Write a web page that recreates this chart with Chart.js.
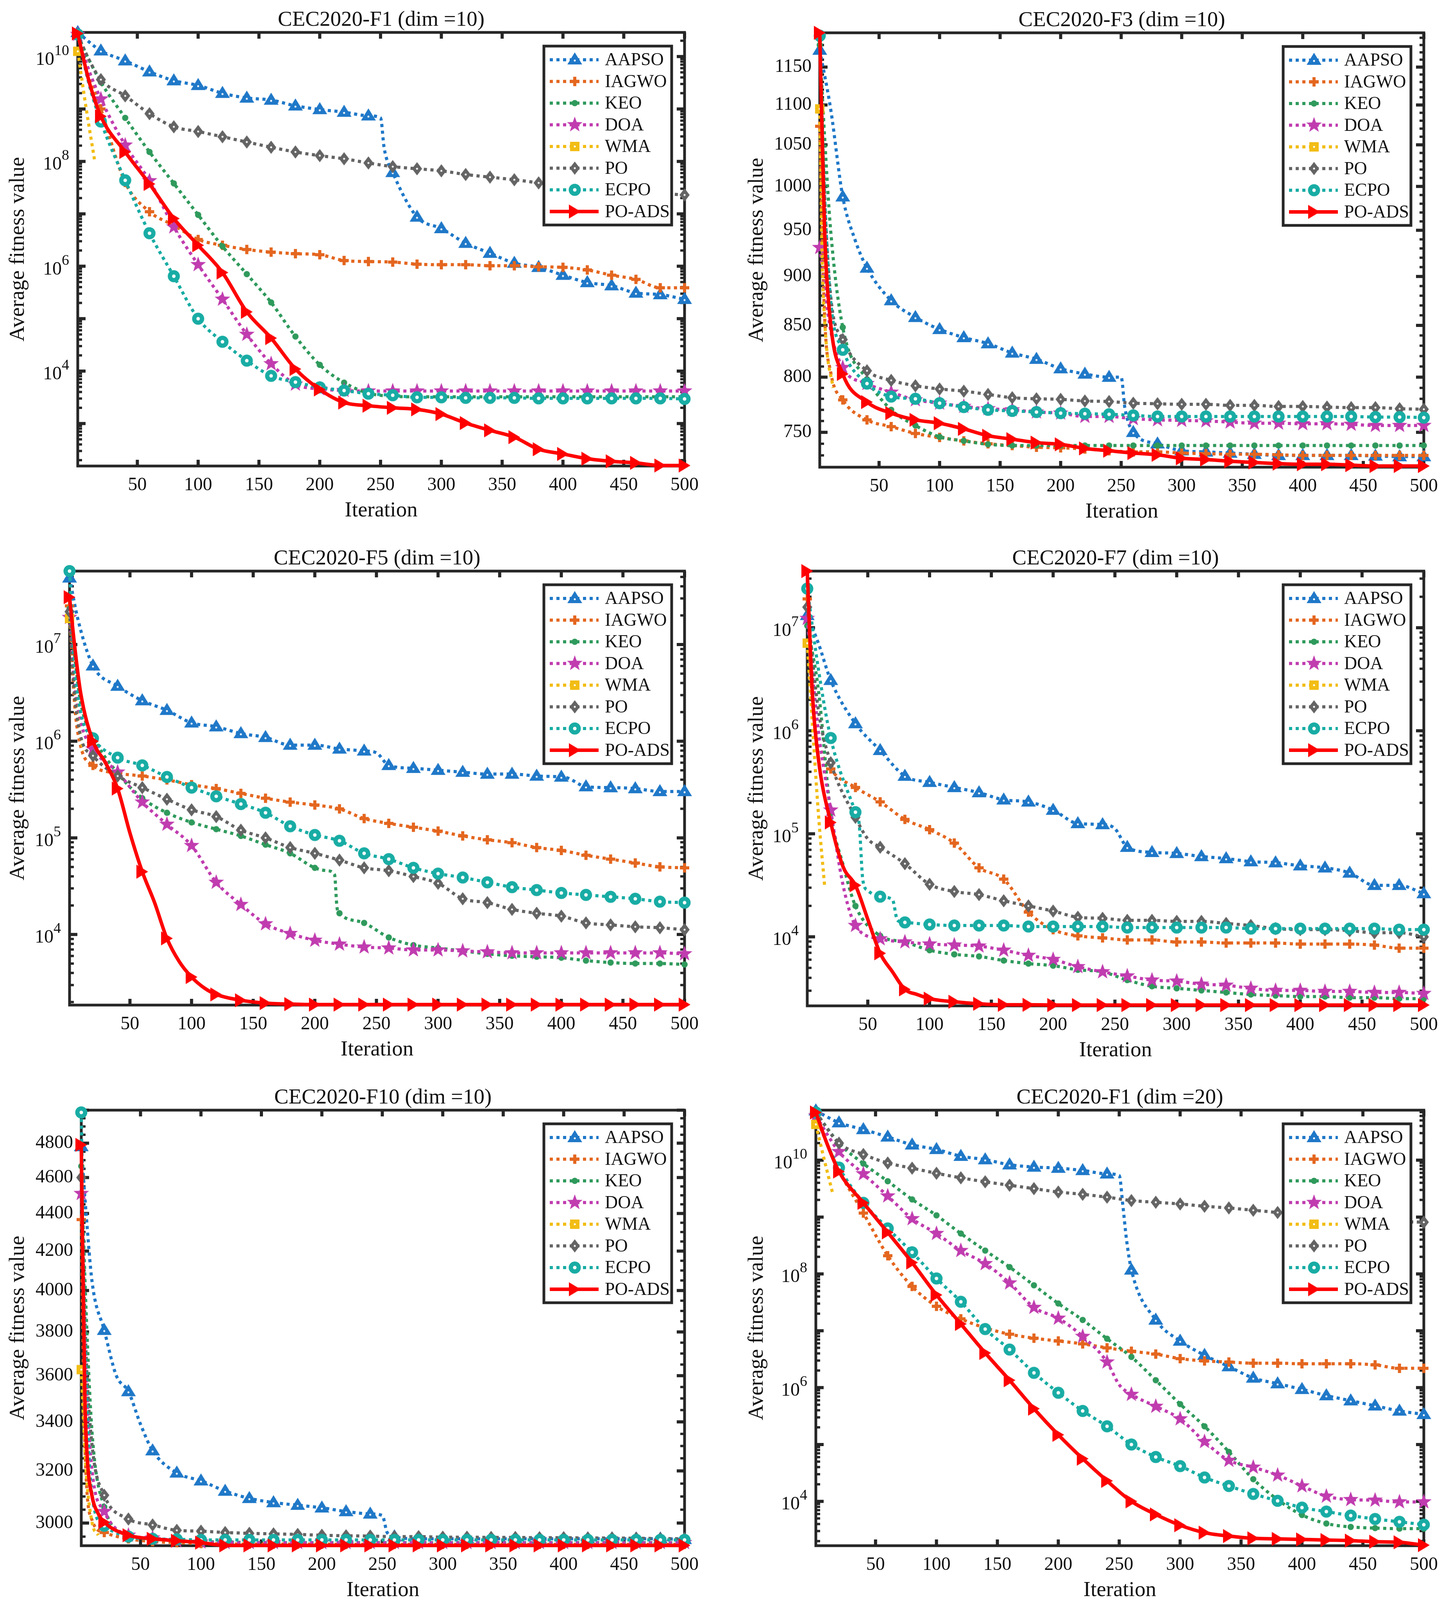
<!DOCTYPE html>
<html>
<head>
<meta charset="utf-8">
<script src="https://cdn.jsdelivr.net/npm/chart.js@4.4.1/dist/chart.umd.min.js"></script>
<style>
  html, body { margin: 0; padding: 0; background: #fff; }
  body { width: 3711px; height: 4124px; position: relative; overflow: hidden; }
  canvas { position: absolute; }
</style>
</head>
<body>
<canvas id="c0" width="1855" height="1375" style="left:0px;top:0px"></canvas>
<canvas id="c1" width="1855" height="1375" style="left:1856px;top:0px"></canvas>
<canvas id="c2" width="1855" height="1375" style="left:0px;top:1375px"></canvas>
<canvas id="c3" width="1855" height="1375" style="left:1856px;top:1375px"></canvas>
<canvas id="c4" width="1855" height="1375" style="left:0px;top:2750px"></canvas>
<canvas id="c5" width="1855" height="1375" style="left:1856px;top:2750px"></canvas>
<script>
// iterations where the markers sit
const iters = [1, 20, 40, 60, 80, 100, 120, 140, 160, 180, 200, 220, 240, 260, 280, 300, 320, 340, 360, 380, 400, 420, 440, 460, 480, 500];
const xTicks = [50, 100, 150, 200, 250, 300, 350, 400, 450, 500];
const algos = ['AAPSO', 'IAGWO', 'KEO', 'DOA', 'WMA', 'PO', 'ECPO', 'PO-ADS'];
const titles = ['CEC2020-F1 (dim =10)', 'CEC2020-F3 (dim =10)', 'CEC2020-F5 (dim =10)',
                'CEC2020-F7 (dim =10)', 'CEC2020-F10 (dim =10)', 'CEC2020-F1 (dim =20)'];

// ---- F1 dim 10 (log10 of average fitness) ----
const f1AAPSO = [10.46, 10.11, 9.92, 9.71, 9.54, 9.45, 9.30, 9.21, 9.17, 9.06, 8.99, 8.94, 8.87,
                 7.79, 6.94, 6.72, 6.44, 6.25, 6.06, 5.98, 5.83, 5.69, 5.63, 5.49, 5.46, 5.37];
const f1AAPSOx = [[250, 8.83], [253, 8.25]];
const f1IAGWO = [10.42, 9.00, 7.60, 7.04, 6.78, 6.51, 6.40, 6.32, 6.27, 6.24, 6.22, 6.11, 6.09,
                 6.08, 6.04, 6.03, 6.03, 6.01, 6.01, 5.99, 5.98, 5.93, 5.83, 5.75, 5.59, 5.59];
const f1IAGWOx = [[10, 9.7]];
const f1KEO = [10.40, 9.51, 8.83, 8.18, 7.58, 6.98, 6.38, 5.85, 5.31, 4.66, 4.12, 3.78, 3.58,
               3.52, 3.51, 3.51, 3.51, 3.51, 3.51, 3.51, 3.51, 3.51, 3.51, 3.51, 3.51, 3.51];
const f1KEOx = [[10, 9.95]];
const f1DOA = [10.42, 9.19, 8.31, 7.63, 6.75, 6.03, 5.37, 4.70, 4.14, 3.75, 3.66, 3.63, 3.62,
               3.62, 3.62, 3.62, 3.62, 3.62, 3.62, 3.62, 3.62, 3.62, 3.62, 3.62, 3.62, 3.62];
const f1DOAx = [[10, 9.75]];
const f1WMAit = [1, 8, 15];
const f1WMA = [10.10, 9.0, 8.0];
const f1PO = [10.42, 9.56, 9.25, 8.91, 8.66, 8.57, 8.47, 8.37, 8.27, 8.18, 8.11, 8.05, 7.97,
              7.90, 7.86, 7.82, 7.75, 7.70, 7.65, 7.59, 7.52, 7.48, 7.44, 7.41, 7.39, 7.36];
const f1POx = [[10, 9.95]];
const f1ECPO = [10.42, 8.76, 7.64, 6.63, 5.81, 5.00, 4.56, 4.20, 3.91, 3.79, 3.69, 3.63, 3.57,
                3.54, 3.50, 3.50, 3.49, 3.49, 3.49, 3.48, 3.48, 3.48, 3.48, 3.48, 3.48, 3.47];
const f1ECPOx = [[10, 9.5]];
const f1PODS = [10.44, 8.86, 8.18, 7.57, 6.91, 6.40, 5.88, 5.13, 4.63, 4.04, 3.65, 3.40, 3.34,
                3.30, 3.27, 3.18, 3.01, 2.87, 2.74, 2.51, 2.42, 2.33, 2.28, 2.25, 2.20, 2.20];
const f1PODSx = [[10, 9.55]];

// ---- F3 dim 10 (average fitness) ----
const f2AAPSO = [1173, 988, 909, 875, 858, 846, 838, 832, 823, 817, 808, 803, 800,
                 750, 740, 734, 733, 732, 731, 730, 730, 730, 730, 729.5, 729, 729];
const f2AAPSOx = [[10, 1095], [30, 940], [250, 800], [253, 772]];
const f2IAGWO = [1073, 779, 761, 755, 749, 745.5, 742.5, 740, 738.5, 737, 736.5, 735.5, 734,
                 733, 733, 732, 731.5, 731, 731, 730.5, 730, 730, 730, 730, 730, 730];
const f2IAGWOx = [[5, 860], [10, 805]];
const f2KEO = [1180, 848, 798, 770, 756, 746, 742.5, 739.5, 738.5, 738.5, 738.5, 738.5, 738.5,
               738.5, 738.5, 738.5, 738.5, 738.5, 738.5, 738.5, 738.5, 738.5, 738.5, 738.5, 738.5, 738.5];
const f2KEOx = [[5, 1060], [10, 950]];
const f2DOA = [931, 809, 794, 786, 779, 776, 773, 771, 770, 768, 767, 764, 764,
               762, 761, 760.5, 760, 759, 758, 758, 757.5, 757.5, 757, 756, 756, 756];
const f2DOAx = [[10, 845]];
const f2WMAit = [1, 3, 6, 12];
const f2WMA = [1095, 920, 838, 790];
const f2PO = [1190, 836, 806, 797, 792, 789, 787, 784, 781, 780, 779.5, 778, 777.5,
              776, 775.5, 775, 775, 774, 774, 773, 773, 772.5, 772, 772, 771, 770.5];
const f2POx = [[5, 990], [10, 880]];
const f2ECPO = [1193, 826, 794, 782, 780, 776, 772.5, 770, 769, 768, 767, 766.5, 766,
                765, 764, 764, 764, 764, 764, 764, 764, 764, 764, 763.5, 763.5, 763];
const f2ECPOx = [[5, 990], [10, 875]];
const f2PODS = [1197, 803, 777, 767, 761, 758, 753, 747, 744, 741, 739.5, 736, 734,
                732, 730.5, 727.5, 726.5, 725, 724, 723, 722.5, 722.5, 721.7, 721, 721, 721];
const f2PODSx = [[5, 950], [10, 852]];

// ---- F5 dim 10 (log10) ----
const f3AAPSO = [7.69, 6.78, 6.57, 6.42, 6.32, 6.19, 6.15, 6.08, 6.04, 5.96, 5.96, 5.92, 5.90,
                 5.75, 5.72, 5.70, 5.68, 5.66, 5.66, 5.64, 5.63, 5.53, 5.52, 5.51, 5.48, 5.48];
const f3AAPSOx = [[8, 7.25], [250, 5.88], [405, 5.62]];
const f3IAGWO = [7.40, 5.75, 5.67, 5.64, 5.60, 5.55, 5.51, 5.46, 5.41, 5.37, 5.34, 5.30, 5.20,
                 5.15, 5.11, 5.07, 5.02, 4.98, 4.95, 4.90, 4.87, 4.82, 4.78, 4.74, 4.70, 4.69];
const f3IAGWOx = [[5, 6.4], [10, 5.95]];
const f3KEO = [7.37, 6.05, 5.67, 5.41, 5.26, 5.16, 5.09, 5.02, 4.93, 4.84, 4.69, 4.22, 4.12,
               3.97, 3.89, 3.86, 3.83, 3.80, 3.78, 3.77, 3.76, 3.73, 3.71, 3.70, 3.70, 3.69];
const f3KEOx = [[5, 6.9], [10, 6.4], [210, 4.66], [216, 4.62], [218, 4.28]];
const f3DOA = [7.28, 5.92, 5.68, 5.37, 5.14, 4.92, 4.54, 4.31, 4.11, 4.01, 3.94, 3.90, 3.87,
               3.86, 3.84, 3.84, 3.83, 3.82, 3.81, 3.81, 3.81, 3.81, 3.81, 3.81, 3.81, 3.80];
const f3DOAx = [[5, 6.6], [10, 6.2]];
const f3WMAit = [1, 6, 12];
const f3WMA = [7.27, 6.4, 5.9];
const f3PO = [7.34, 5.85, 5.64, 5.52, 5.40, 5.29, 5.22, 5.08, 5.00, 4.90, 4.84, 4.77, 4.69,
              4.66, 4.60, 4.53, 4.37, 4.33, 4.26, 4.22, 4.19, 4.12, 4.10, 4.08, 4.07, 4.05];
const f3POx = [[5, 6.5], [10, 6.05]];
const f3ECPO = [7.76, 6.03, 5.83, 5.75, 5.63, 5.52, 5.43, 5.35, 5.26, 5.12, 5.03, 4.97, 4.84,
                4.78, 4.69, 4.63, 4.59, 4.54, 4.49, 4.46, 4.43, 4.41, 4.39, 4.37, 4.34, 4.33];
const f3ECPOx = [[5, 6.8], [10, 6.3]];
const f3PODS = [7.49, 6.00, 5.51, 4.65, 3.96, 3.56, 3.38, 3.32, 3.29, 3.28, 3.275, 3.275, 3.275,
                3.275, 3.275, 3.275, 3.275, 3.275, 3.275, 3.275, 3.275, 3.275, 3.275, 3.275, 3.275, 3.275];
const f3PODSx = [[5, 7.0], [10, 6.5], [30, 5.78], [50, 5.05], [70, 4.33], [90, 3.72], [110, 3.45]];

// ---- F7 dim 10 (log10) ----
const f4AAPSO = [7.12, 6.49, 6.07, 5.81, 5.56, 5.50, 5.45, 5.40, 5.33, 5.31, 5.23, 5.10, 5.09,
                 4.87, 4.82, 4.81, 4.78, 4.76, 4.73, 4.72, 4.69, 4.67, 4.62, 4.50, 4.50, 4.42];
const f4AAPSOx = [[10, 6.85], [250, 5.05]];
const f4IAGWO = [7.28, 5.63, 5.45, 5.31, 5.14, 5.04, 4.91, 4.67, 4.56, 4.24, 4.07, 4.01, 3.99,
                 3.97, 3.97, 3.95, 3.95, 3.94, 3.94, 3.94, 3.93, 3.93, 3.93, 3.92, 3.89, 3.89];
const f4IAGWOx = [[5, 6.3], [10, 5.9]];
const f4KEO = [7.02, 5.20, 4.30, 4.01, 3.95, 3.87, 3.83, 3.81, 3.77, 3.74, 3.72, 3.68, 3.66,
               3.58, 3.52, 3.50, 3.48, 3.46, 3.44, 3.43, 3.42, 3.42, 3.41, 3.41, 3.40, 3.40];
const f4KEOx = [[10, 6.4], [30, 4.7]];
const f4DOA = [7.09, 5.23, 4.11, 3.98, 3.95, 3.93, 3.92, 3.91, 3.87, 3.82, 3.78, 3.71, 3.66,
               3.62, 3.58, 3.57, 3.54, 3.53, 3.50, 3.48, 3.48, 3.47, 3.47, 3.46, 3.46, 3.45];
const f4DOAx = [[10, 6.0], [30, 4.5]];
const f4WMAit = [1, 5, 10, 15];
const f4WMA = [6.85, 6.1, 5.2, 4.5];
const f4PO = [7.20, 5.69, 5.16, 4.87, 4.71, 4.51, 4.44, 4.41, 4.35, 4.30, 4.25, 4.19, 4.18,
              4.16, 4.16, 4.15, 4.15, 4.13, 4.11, 4.08, 4.07, 4.07, 4.06, 4.04, 4.04, 4.00];
const f4POx = [[10, 6.2], [50, 4.95]];
const f4ECPO = [7.38, 5.93, 5.21, 4.39, 4.14, 4.12, 4.11, 4.11, 4.11, 4.10, 4.10, 4.10, 4.10,
                4.09, 4.09, 4.09, 4.09, 4.09, 4.08, 4.08, 4.08, 4.08, 4.08, 4.08, 4.07, 4.07];
const f4ECPOx = [[10, 6.6], [43, 5.1], [46, 4.55], [50, 4.45], [70, 4.36], [74, 4.16]];
const f4PODS = [7.55, 5.11, 4.50, 3.84, 3.49, 3.40, 3.37, 3.35, 3.34, 3.34, 3.338, 3.338, 3.338,
                3.338, 3.338, 3.338, 3.338, 3.338, 3.338, 3.338, 3.338, 3.338, 3.338, 3.338, 3.338, 3.338];
const f4PODSx = [[5, 6.4], [10, 5.73], [30, 4.68], [50, 4.17], [70, 3.66], [90, 3.44]];

// ---- F10 dim 10 (average fitness) ----
const f5AAPSO = [4780, 3808, 3530, 3281, 3192, 3161, 3121, 3093, 3077, 3067, 3057, 3043, 3034,
                 2950, 2942, 2942, 2942, 2942, 2942, 2942, 2942, 2942, 2942, 2942, 2942, 2940];
const f5AAPSOx = [[5, 4400], [10, 4040], [30, 3600], [50, 3390], [250, 3028], [254, 2965]];
const f5IAGWO = [4367, 2965, 2942, 2932, 2928, 2925, 2924, 2923, 2923, 2923, 2923, 2922, 2922,
                 2922, 2922, 2922, 2922, 2922, 2922, 2922, 2922, 2922, 2922, 2922, 2922, 2922];
const f5IAGWOx = [[4, 3300], [10, 3010]];
const f5KEO = [4665, 3060, 2955, 2942, 2935, 2932, 2930, 2929, 2928, 2928, 2928, 2928, 2928,
               2928, 2928, 2928, 2928, 2928, 2928, 2928, 2928, 2928, 2928, 2928, 2928, 2928];
const f5KEOx = [[5, 3900], [10, 3350]];
const f5DOA = [4510, 3043, 2955, 2945, 2935, 2930, 2928, 2928, 2928, 2928, 2928, 2928, 2928,
               2928, 2928, 2928, 2928, 2928, 2928, 2928, 2928, 2928, 2928, 2928, 2928, 2928];
const f5DOAx = [[5, 3600], [10, 3200]];
const f5WMAit = [1, 5, 10, 15];
const f5WMA = [3627, 3200, 3000, 2955];
const f5PO = [4600, 3105, 3015, 2993, 2973, 2970, 2965, 2962, 2960, 2958, 2955, 2953, 2952,
              2950, 2950, 2948, 2948, 2947, 2947, 2946, 2946, 2945, 2945, 2944, 2943, 2942];
const f5POx = [[5, 3700], [10, 3300]];
const f5ECPO = [4986, 2990, 2950, 2942, 2940, 2938, 2938, 2938, 2938, 2938, 2938, 2938, 2938,
                2938, 2938, 2938, 2938, 2938, 2938, 2938, 2938, 2938, 2938, 2938, 2938, 2938];
const f5ECPOx = [[4, 3800], [10, 3100]];
const f5PODS = [4790, 3003, 2955, 2942, 2935, 2928, 2918, 2918, 2918, 2918, 2918, 2918, 2918,
                2918, 2918, 2918, 2918, 2918, 2918, 2918, 2918, 2918, 2918, 2918, 2918, 2918];
const f5PODSx = [[4, 3500], [6, 3250], [10, 3100], [15, 3035]];

// ---- F1 dim 20 (log10) ----
const f6AAPSO = [10.87, 10.66, 10.54, 10.41, 10.27, 10.19, 10.07, 10.01, 9.92, 9.88, 9.86, 9.82, 9.76,
                 8.07, 7.19, 6.82, 6.57, 6.37, 6.17, 6.07, 5.97, 5.86, 5.77, 5.68, 5.59, 5.53];
const f6AAPSOx = [[250, 9.73], [253, 9.2], [256, 8.6]];
const f6IAGWO = [10.78, 9.82, 9.07, 8.32, 7.78, 7.43, 7.21, 7.05, 6.94, 6.87, 6.82, 6.77, 6.70,
                 6.64, 6.59, 6.51, 6.47, 6.45, 6.43, 6.43, 6.42, 6.42, 6.42, 6.40, 6.34, 6.34];
const f6IAGWOx = [[10, 10.3]];
const f6KEO = [10.84, 10.30, 9.94, 9.63, 9.31, 9.03, 8.71, 8.41, 8.12, 7.80, 7.48, 7.19, 6.86,
               6.54, 6.13, 5.71, 5.32, 4.87, 4.39, 4.03, 3.76, 3.61, 3.55, 3.53, 3.52, 3.52];
const f6KEOx = [];
const f6DOA = [10.78, 10.15, 9.76, 9.37, 8.97, 8.71, 8.41, 8.18, 7.84, 7.41, 7.22, 6.90, 6.45,
               5.88, 5.67, 5.45, 5.05, 4.72, 4.60, 4.46, 4.27, 4.09, 4.03, 4.02, 3.99, 3.99];
const f6DOAx = [[250, 6.05]];
const f6WMAit = [1, 8, 15];
const f6WMA = [10.63, 10.0, 9.4];
const f6PO = [10.84, 10.30, 10.10, 9.95, 9.86, 9.77, 9.69, 9.62, 9.56, 9.50, 9.44, 9.40, 9.35,
              9.29, 9.26, 9.23, 9.19, 9.16, 9.12, 9.08, 9.04, 9.01, 8.98, 8.95, 8.92, 8.91];
const f6POx = [];
const f6ECPO = [10.84, 9.87, 9.25, 8.80, 8.38, 7.92, 7.51, 7.03, 6.67, 6.26, 5.91, 5.59, 5.32,
                5.00, 4.78, 4.62, 4.42, 4.27, 4.13, 4.01, 3.89, 3.82, 3.75, 3.69, 3.64, 3.59];
const f6ECPOx = [[10, 10.3]];
const f6PODS = [10.84, 9.80, 9.25, 8.73, 8.20, 7.63, 7.12, 6.61, 6.13, 5.63, 5.17, 4.75, 4.36,
                4.00, 3.77, 3.58, 3.45, 3.39, 3.35, 3.34, 3.33, 3.32, 3.31, 3.29, 3.28, 3.23];
const f6PODSx = [[10, 10.3]];

// y tick labels
const yTicksF1 = [1e4, 1e6, 1e8, 1e10];
const yTicksF3 = [750, 800, 850, 900, 950, 1000, 1050, 1100, 1150];
const yTicksF5 = [1e4, 1e5, 1e6, 1e7];
const yTicksF7 = [1e4, 1e5, 1e6, 1e7];
const yTicksF10 = [3000, 3200, 3400, 3600, 3800, 4000, 4200, 4400, 4600, 4800];
const yTicksF1d20 = [1e4, 1e6, 1e8, 1e10];

const colors = ['#1f78c8', '#e4661f', '#2f9a5c', '#c03caf', '#f2bd14', '#646464', '#18aca4', '#ff0000'];
const shapes = ['tri', 'plus', 'dot', 'star', 'sq', 'dia', 'circ', 'rtri'];
const ink = '#111';

Chart.defaults.font.family = '"Liberation Serif", "Times New Roman", serif';
Chart.defaults.color = ink;

function makeMarker(shape, color) {
  const c = document.createElement('canvas');
  c.width = 48; c.height = 48;
  const g = c.getContext('2d');
  const m = 24;
  g.fillStyle = color; g.strokeStyle = color;
  g.beginPath();
  if (shape === 'tri') { g.moveTo(m, m - 19); g.lineTo(m + 19, m + 12); g.lineTo(m - 19, m + 12); }
  else if (shape === 'rtri') { g.moveTo(m + 15, m); g.lineTo(m - 15, m - 18); g.lineTo(m - 15, m + 18); }
  else if (shape === 'sq') { g.rect(m - 12, m - 12, 24, 24); }
  else if (shape === 'dia') { g.moveTo(m, m - 17); g.lineTo(m + 13, m); g.lineTo(m, m + 17); g.lineTo(m - 13, m); }
  else if (shape === 'circ') { g.arc(m, m, 15.5, 0, Math.PI * 2); }
  else if (shape === 'dot') { g.arc(m, m, 8, 0, Math.PI * 2); }
  else if (shape === 'star') {
    for (let k = 0; k < 10; k++) {
      const r = k % 2 ? 8.5 : 21, t = -Math.PI / 2 + k * Math.PI / 5;
      g.lineTo(m + r * Math.cos(t), m + r * Math.sin(t));
    }
  }
  if (shape === 'plus') {
    g.lineWidth = 8;
    g.moveTo(m - 12, m); g.lineTo(m + 12, m); g.moveTo(m, m - 12); g.lineTo(m, m + 12);
    g.stroke();
  } else {
    g.closePath(); g.fill();
  }
  // the little hole MATLAB leaves in thick-edged markers
  if (['tri', 'sq', 'dia', 'circ'].includes(shape)) {
    g.fillStyle = '#fff';
    g.beginPath();
    g.arc(m, shape === 'tri' ? m + 2 : m, shape === 'circ' ? 4.5 : 2.5, 0, Math.PI * 2);
    g.fill();
  }
  return c;
}
const markers = shapes.map((s, i) => makeMarker(s, colors[i]));

const panels = [
  { id: 'c0', title: titles[0], exp: true, range: [2.19, 10.46], yTicks: yTicksF1, box: [199, 83, 1752, 1193], ylabX: 47,
    series: [[f1AAPSO, f1AAPSOx], [f1IAGWO, f1IAGWOx], [f1KEO, f1KEOx], [f1DOA, f1DOAx], [f1WMAit, f1WMA], [f1PO, f1POx], [f1ECPO, f1ECPOx], [f1PODS, f1PODSx]] },
  { id: 'c1', title: titles[1], exp: false, range: [720, 1197], step: [50, 10], yTicks: yTicksF3, box: [242, 84, 1788, 1196], ylabX: 82,
    series: [[f2AAPSO, f2AAPSOx], [f2IAGWO, f2IAGWOx], [f2KEO, f2KEOx], [f2DOA, f2DOAx], [f2WMAit, f2WMA], [f2PO, f2POx], [f2ECPO, f2ECPOx], [f2PODS, f2PODSx]] },
  { id: 'c2', title: titles[2], exp: true, range: [3.27, 7.76], yTicks: yTicksF5, box: [178, 87, 1752, 1198], ylabX: 47,
    series: [[f3AAPSO, f3AAPSOx], [f3IAGWO, f3IAGWOx], [f3KEO, f3KEOx], [f3DOA, f3DOAx], [f3WMAit, f3WMA], [f3PO, f3POx], [f3ECPO, f3ECPOx], [f3PODS, f3PODSx]] },
  { id: 'c3', title: titles[3], exp: true, range: [3.33, 7.55], yTicks: yTicksF7, box: [210, 87, 1788, 1200], ylabX: 82,
    series: [[f4AAPSO, f4AAPSOx], [f4IAGWO, f4IAGWOx], [f4KEO, f4KEOx], [f4DOA, f4DOAx], [f4WMAit, f4WMA], [f4PO, f4POx], [f4ECPO, f4ECPOx], [f4PODS, f4PODSx]] },
  { id: 'c4', title: titles[4], exp: false, range: [2917, 5000], step: [200, 50], yTicks: yTicksF10, box: [208, 92, 1752, 1207], ylabX: 47,
    series: [[f5AAPSO, f5AAPSOx], [f5IAGWO, f5IAGWOx], [f5KEO, f5KEOx], [f5DOA, f5DOAx], [f5WMAit, f5WMA], [f5PO, f5POx], [f5ECPO, f5ECPOx], [f5PODS, f5PODSx]] },
  { id: 'c5', title: titles[5], exp: true, range: [3.22, 10.88], yTicks: yTicksF1d20, box: [232, 92, 1788, 1207], ylabX: 82,
    series: [[f6AAPSO, f6AAPSOx], [f6IAGWO, f6IAGWOx], [f6KEO, f6KEOx], [f6DOA, f6DOAx], [f6WMAit, f6WMA], [f6PO, f6POx], [f6ECPO, f6ECPOx], [f6PODS, f6PODSx]] }
];

function tickSets(p, min, max) {
  const major = [], minor = [];
  if (p.step) {
    for (let v = Math.ceil(min / p.step[1]) * p.step[1]; v <= max; v += p.step[1]) {
      (v % p.step[0] === 0 ? major : minor).push(v);
    }
  } else {
    for (let e = Math.floor(Math.log10(min)); e <= Math.ceil(Math.log10(max)); e++) {
      for (let k = 1; k <= 9; k++) {
        const v = k * Math.pow(10, e);
        if (v >= min && v <= max) (k === 1 ? major : minor).push(v);
      }
    }
  }
  return { major, minor };
}

function makeFrame(p, t) {
  return {
    id: 'frame',
    beforeDatasetsDraw(chart) {
      const { ctx, chartArea: a, scales: { x, y } } = chart;
      ctx.save();
      ctx.strokeStyle = '#262626';
      ctx.lineWidth = 8;
      ctx.beginPath();
      xTicks.forEach(v => {
        const px = x.getPixelForValue(v);
        ctx.moveTo(px, a.bottom); ctx.lineTo(px, a.bottom - 16);
        ctx.moveTo(px, a.top); ctx.lineTo(px, a.top + 16);
      });
      t.major.forEach(v => {
        const py = y.getPixelForValue(v);
        ctx.moveTo(a.left, py); ctx.lineTo(a.left + 20, py);
        ctx.moveTo(a.right, py); ctx.lineTo(a.right - 20, py);
      });
      ctx.stroke();
      ctx.lineWidth = 6;
      ctx.beginPath();
      t.minor.forEach(v => {
        const py = y.getPixelForValue(v);
        ctx.moveTo(a.left, py); ctx.lineTo(a.left + 11, py);
        ctx.moveTo(a.right, py); ctx.lineTo(a.right - 11, py);
      });
      ctx.stroke();
      ctx.lineWidth = 7;
      ctx.strokeRect(a.left, a.top, a.right - a.left, a.bottom - a.top);
      ctx.restore();
    },
    afterDraw(chart) {
      const { ctx, chartArea: a, scales: { y } } = chart;
      ctx.save();
      ctx.fillStyle = ink;

      // power-of-ten labels: base 10 with a raised exponent, right aligned
      if (p.exp) {
        ctx.textAlign = 'right';
        ctx.textBaseline = 'alphabetic';
        p.yTicks.forEach(v => {
          const py = y.getPixelForValue(v);
          const e = String(Math.round(Math.log10(v)));
          ctx.font = '38px "Liberation Serif"';
          const ew = ctx.measureText(e).width;
          ctx.fillText(e, a.left - 22, py - 4);
          ctx.font = '48px "Liberation Serif"';
          ctx.fillText('10', a.left - 22 - ew, py + 21);
        });
      }

      ctx.textAlign = 'center';
      ctx.textBaseline = 'middle';
      ctx.font = '55px "Liberation Serif"';
      ctx.fillText(p.title, (a.left + a.right) / 2, a.top - 31);
      ctx.fillText('Iteration', (a.left + a.right) / 2, a.bottom + 115);
      ctx.save();
      ctx.translate(p.ylabX, (a.top + a.bottom) / 2);
      ctx.rotate(-Math.PI / 2);
      ctx.fillText('Average fitness value', 0, 0);
      ctx.restore();

      // legend inside the axes, top right
      const lw = 327, lh = 458;
      const lx = a.right - 33 - lw, ly = a.top + 35;
      ctx.fillStyle = '#fff';
      ctx.fillRect(lx, ly, lw, lh);
      ctx.strokeStyle = '#262626';
      ctx.lineWidth = 7;
      ctx.strokeRect(lx, ly, lw, lh);
      ctx.font = '46px "Liberation Serif"';
      ctx.textAlign = 'left';
      chart.data.datasets.forEach((ds, i) => {
        const cy = ly + 35 + i * 55.5;
        ctx.save();
        ctx.strokeStyle = ds.borderColor;
        ctx.lineWidth = ds.borderWidth;
        ctx.setLineDash(ds.borderDash);
        ctx.beginPath();
        ctx.moveTo(lx + 15, cy); ctx.lineTo(lx + 140, cy);
        ctx.stroke();
        ctx.restore();
        const mk = ds.pointStyle;
        ctx.drawImage(mk, lx + 79 - mk.width / 2, cy - mk.height / 2);
        ctx.fillStyle = ink;
        ctx.fillText(ds.label, lx + 156, cy + 2);
      });
      ctx.restore();
    }
  };
}

panels.forEach(p => {
  const conv = v => p.exp ? Math.pow(10, v) : v;
  const min = conv(p.range[0]), max = conv(p.range[1]);
  const canvas = document.getElementById(p.id);
  const W = canvas.width, H = canvas.height;

  const datasets = p.series.map((s, i) => {
    let pts;
    if (i === 4) {
      pts = s[0].map((x, k) => ({ x, y: conv(s[1][k]), m: x === 1 }));
    } else {
      pts = iters.map((x, k) => ({ x, y: conv(s[0][k]), m: true }));
      s[1].forEach(([x, v]) => pts.push({ x, y: conv(v), m: false }));
      pts.sort((a, b) => a.x - b.x);
    }
    return {
      label: algos[i],
      data: pts,
      borderColor: colors[i],
      backgroundColor: colors[i],
      borderWidth: i === 7 ? 9 : 8,
      borderDash: i === 7 ? [] : [8, 9],
      borderCapStyle: 'butt',
      pointStyle: markers[i],
      pointRadius: c => (c.raw && c.raw.m ? 12 : 0),
      cubicInterpolationMode: 'monotone',
      clip: false,
      fill: false,
      order: 8 - i
    };
  });

  new Chart(canvas, {
    type: 'line',
    data: { datasets },
    plugins: [makeFrame(p, tickSets(p, min, max))],
    options: {
      responsive: false,
      animation: false,
      devicePixelRatio: 1,
      events: [],
      layout: { autoPadding: false, padding: { left: 0, top: p.box[1], right: W - p.box[2], bottom: 0 } },
      plugins: { legend: { display: false }, tooltip: { enabled: false } },
      scales: {
        x: {
          type: 'linear', min: 1, max: 500,
          grid: { display: false, drawTicks: false },
          border: { display: false },
          ticks: { font: { size: 48 }, padding: 21, maxRotation: 0, autoSkip: false },
          afterBuildTicks: s => { s.ticks = xTicks.map(v => ({ value: v })); },
          afterFit: s => { s.height = H - p.box[3]; s.paddingLeft = 0; s.paddingRight = 0; }
        },
        y: {
          type: 'logarithmic', min, max,
          grid: { display: false, drawTicks: false },
          border: { display: false },
          ticks: { display: !p.exp, font: { size: 48 }, padding: 21, autoSkip: false, callback: v => String(v) },
          afterBuildTicks: s => { s.ticks = p.yTicks.map(v => ({ value: v })); },
          afterFit: s => { s.width = p.box[0]; s.paddingTop = 0; s.paddingBottom = 0; }
        }
      }
    }
  });
});
</script>
</body>
</html>
